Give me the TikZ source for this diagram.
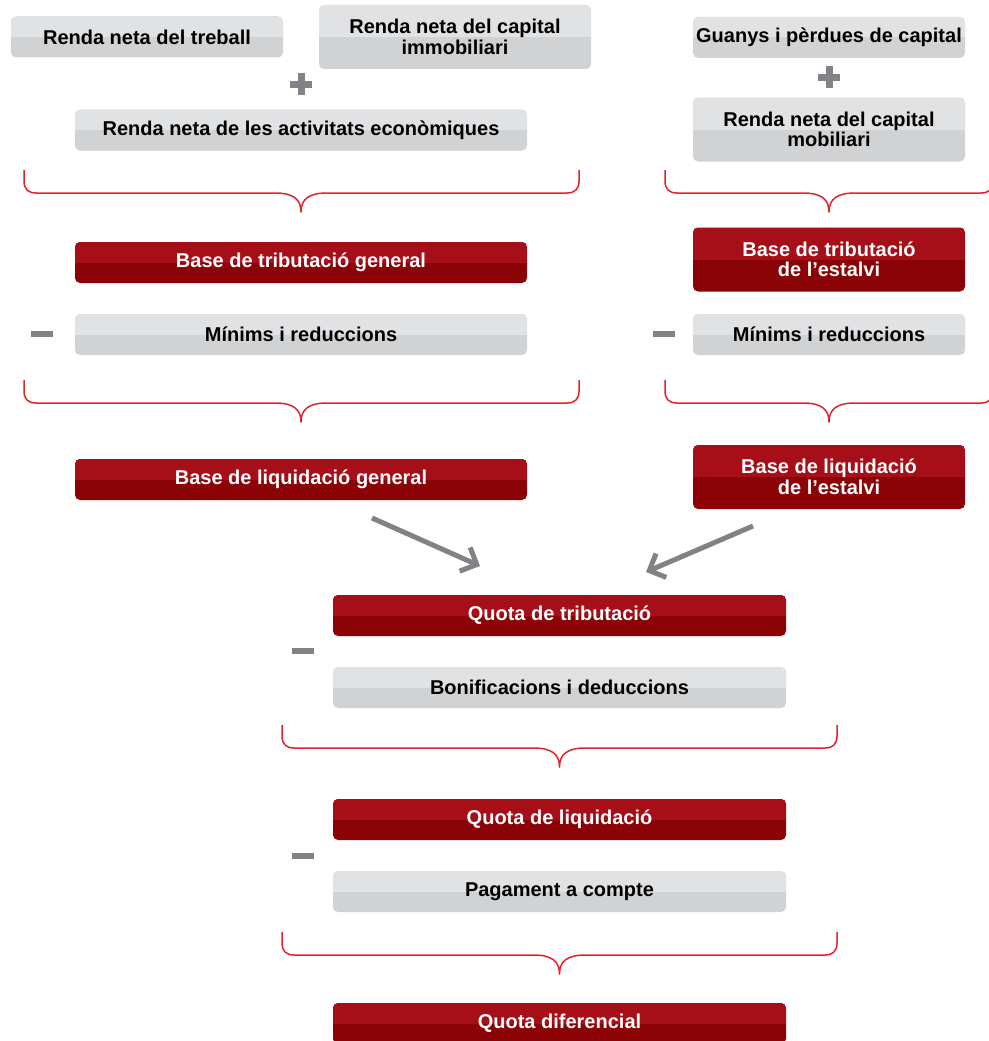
\documentclass[tikz,border=0pt]{standalone}
\usepackage{fontspec}
\setmainfont{Liberation Sans}
\usetikzlibrary{arrows.meta}
\definecolor{redT}{HTML}{A60E18}
\definecolor{redB}{HTML}{8C0307}
\definecolor{grayT}{HTML}{E1E2E4}
\definecolor{grayB}{HTML}{D1D2D4}
\definecolor{braceRed}{HTML}{E3222B}
\definecolor{signGray}{HTML}{808285}
\tikzset{
  box/.style={rounded corners=5pt, inner sep=0pt, align=center,
    font=\fontsize{20}{20.5}\selectfont\bfseries},
  graybox/.style={box, fill=grayB, text=black,
    path picture={\fill[grayT, sharp corners] (path picture bounding box.north west) rectangle (path picture bounding box.east);}},
  redbox/.style={box, fill=redB, text=white,
    path picture={\fill[redT, sharp corners] (path picture bounding box.north west) rectangle (path picture bounding box.east);}},
  small/.style={minimum width=272pt},
  wide/.style={minimum width=453pt},
  one/.style={minimum height=41pt},
  two/.style={minimum height=64pt},
  bracestroke/.style={draw=braceRed, line width=1.5pt, line join=round},
  sign/.style={fill=signGray},
  flow/.style={draw=signGray, line width=5pt, -{Straight Barb[length=13pt, width=26pt, line width=5pt]}}
}
\newcommand{\mybrace}[5]{% xl xr xc ytop yh ; tip = yh+19
  \draw[bracestroke] (#1,#4) -- (#1,#5-12) .. controls (#1,#5-4) and (#1+4,#5) .. (#1+12,#5)
    -- (#3-26,#5) .. controls (#3-8,#5) and (#3,#5+6) .. (#3,#5+19)
    .. controls (#3,#5+6) and (#3+8,#5) .. (#3+26,#5)
    -- (#2-12,#5) .. controls (#2-4,#5) and (#2,#5-4) .. (#2,#5-12) -- (#2,#4);}
\newcommand{\myplus}[2]{\fill[sign] (#1-11,#2-3.5) rectangle (#1+11,#2+3.5); \fill[sign] (#1-3.5,#2-11) rectangle (#1+3.5,#2+11);}
\newcommand{\myminus}[2]{\fill[sign] (#1-11,#2-3) rectangle (#1+11,#2+3);}
\begin{document}
\begin{tikzpicture}[x=1pt,y=-1pt]
\useasboundingbox (0,0) rectangle (988,1041);
% left column
\node[graybox, small, one] (treball) at (147,37) {Renda neta del treball};
\node[graybox, small, two] (immob) at (455,37) {Renda neta del capital\\immobiliari};
\myplus{301}{84}
\node[graybox, minimum width=452pt, one] (activ) at (301,130) {Renda neta de les activitats econòmiques};
\mybrace{24}{579}{301}{170}{193}
\node[redbox, minimum width=452pt, one] (btgen) at (301,262.5) {Base de tributació general};
\myminus{42}{334}
\node[graybox, minimum width=452pt, one] (minims1) at (301,334.5) {Mínims i reduccions};
\mybrace{24}{579}{301}{380}{403}
\node[redbox, minimum width=452pt, one] (blgen) at (301,479.5) {Base de liquidació general};
% right column
\node[graybox, small, one] (guanys) at (829,37.5) {Guanys i pèrdues de capital};
\myplus{829}{77}
\node[graybox, small, two] (mobil) at (829,129.5) {Renda neta del capital\\mobiliari};
\mybrace{665}{993}{829}{170}{193}
\node[redbox, small, two] (btest) at (829,259.5) {Base de tributació\\de l’estalvi};
\myminus{664}{334}
\node[graybox, small, one] (minims2) at (829,334.5) {Mínims i reduccions};
\mybrace{665}{993}{829}{380}{403}
\node[redbox, small, two] (blest) at (829,477) {Base de liquidació\\de l’estalvi};
% arrows
\coordinate (a1s) at (372,518);
\coordinate (a1e) at (480,566);
\coordinate (a2s) at (753,526);
\coordinate (a2e) at (646,572);
\draw[flow] (a1s) -- (a1e);
\draw[flow] (a2s) -- (a2e);
% lower part
\node[redbox, wide, one] (qtrib) at (559.5,615.5) {Quota de tributació};
\myminus{303}{651}
\node[graybox, wide, one] (bonif) at (559.5,687.5) {Bonificacions i deduccions};
\mybrace{282}{837}{559.5}{725}{748}
\node[redbox, wide, one] (qliq) at (559.5,819.5) {Quota de liquidació};
\myminus{303}{856}
\node[graybox, wide, one] (pagam) at (559.5,891.5) {Pagament a compte};
\mybrace{282}{837}{559.5}{932}{955}
\node[redbox, wide, one] (qdif) at (559.5,1023.5) {Quota diferencial};
\end{tikzpicture}
\end{document}
